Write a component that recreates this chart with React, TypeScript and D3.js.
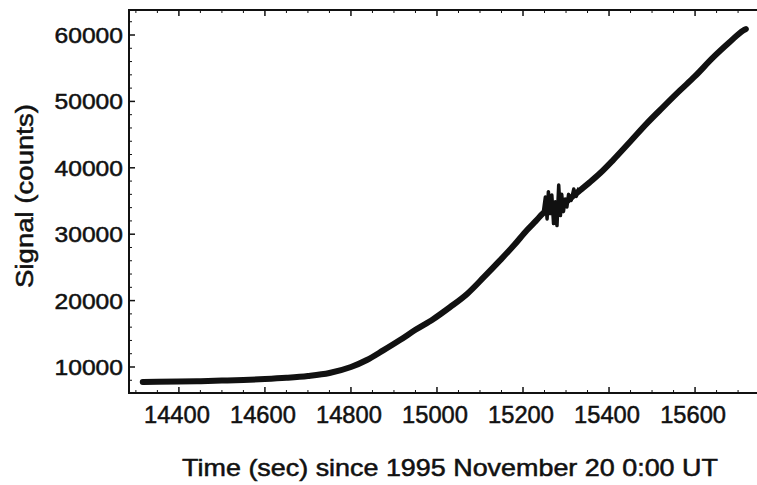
import React from "react";
import * as d3 from "d3";

const W = 757;
const H = 485;

// main light-curve trace (time in s, signal in counts)
const times = [14316, 14350, 14400, 14450, 14500, 14550, 14600, 14650, 14700, 14750, 14800, 14837, 14875, 14914, 14950, 14991, 15030, 15070, 15110, 15147, 15180, 15209, 15230, 15247, 15265, 15290, 15310, 15333, 15355, 15379, 15409, 15450, 15488, 15525, 15565, 15600, 15642, 15680, 15712, 15718];
const signal = [7745, 7760, 7800, 7870, 7950, 8050, 8190, 8380, 8650, 9100, 10000, 11050, 12500, 14060, 15600, 17200, 19000, 21000, 23600, 26090, 28400, 30600, 32000, 33160, 33700, 34300, 35400, 36620, 37800, 39170, 41130, 44000, 46690, 49100, 51650, 53800, 56620, 58900, 60680, 60900];

// jitter segment around the glitch near 15270 s
const glitchTimes = [15247, 15252, 15256, 15259, 15263, 15267, 15271, 15275, 15279, 15283, 15287, 15290, 15294, 15298, 15302, 15306, 15312, 15318, 15324, 15330];
const glitchSignal = [33200, 35600, 32300, 36400, 33100, 35900, 31600, 34900, 31300, 37400, 32800, 36000, 33400, 35300, 34100, 36000, 35100, 36800, 35700, 37000];

const xTicks = [14400, 14600, 14800, 15000, 15200, 15400, 15600];
const yTicks = [10000, 20000, 30000, 40000, 50000, 60000];

const xLabel = "Time (sec) since 1995 November 20 0:00 UT";
const yLabel = "Signal (counts)";

export default function App() {
  const left = 129;
  const right = 757;
  const top = 10;
  const bottom = 393;

  const x = d3.scaleLinear().domain([14284, 15744]).range([left, right]);
  const y = d3.scaleLinear().domain([6084, 63765]).range([bottom, top]);

  const main = times.map((t, i) => [t, signal[i]] as [number, number]);
  const glitch = glitchTimes.map((t, i) => [t, glitchSignal[i]] as [number, number]);

  const line = d3
    .line<[number, number]>()
    .x((d) => x(d[0]))
    .y((d) => y(d[1]))
    .curve(d3.curveMonotoneX);
  const lineLin = d3
    .line<[number, number]>()
    .x((d) => x(d[0]))
    .y((d) => y(d[1]));

  const xMinor = d3.range(14300, 15750, 50).filter((v) => v % 200 !== 0);
  const yMinor = d3.range(8000, 63000, 2000).filter((v) => v % 10000 !== 0);

  const font = "'Liberation Sans', Arial, Helvetica, sans-serif";
  const txt = { fontFamily: font, fill: "#111", stroke: "#111", strokeWidth: 0.5 };

  return (
    <svg
      width={W}
      height={H}
      style={{ position: "fixed", left: 0, top: 0, background: "#fff" }}
    >
      <rect x={0} y={0} width={W} height={H} fill="#fff" />
      {/* data */}
      <path d={line(main) || ""} fill="none" stroke="#111" strokeWidth={6} strokeLinecap="round" />
      <path d={lineLin(glitch) || ""} fill="none" stroke="#111" strokeWidth={3.5} strokeLinejoin="round" />

      {/* frame */}
      <line x1={left} x2={left} y1={top} y2={bottom} stroke="#111" strokeWidth={2} />
      <line x1={left - 1} x2={right} y1={bottom} y2={bottom} stroke="#111" strokeWidth={2} />
      <line x1={left - 1} x2={right} y1={top} y2={top} stroke="#111" strokeWidth={2} />

      {/* x ticks bottom & top */}
      {xTicks.map((t) => (
        <g key={"xt" + t}>
          <line x1={x(t)} x2={x(t)} y1={bottom} y2={bottom - 6} stroke="#111" strokeWidth={1.5} />
          <line x1={x(t)} x2={x(t)} y1={top} y2={top + 6} stroke="#111" strokeWidth={1.5} />
          <text
            transform={`translate(${x(t) - 2},${bottom + 30}) scale(1.03,1.05)`}
            textAnchor="middle"
            fontSize={23}
            {...txt}
          >
            {t}
          </text>
        </g>
      ))}
      {xMinor.map((t) => (
        <g key={"xm" + t}>
          <line x1={x(t)} x2={x(t)} y1={bottom} y2={bottom - 3} stroke="#111" strokeWidth={1} />
          <line x1={x(t)} x2={x(t)} y1={top} y2={top + 3} stroke="#111" strokeWidth={1} />
        </g>
      ))}

      {/* y ticks */}
      {yTicks.map((v) => (
        <g key={"yt" + v}>
          <line x1={left} x2={left + 6} y1={y(v)} y2={y(v)} stroke="#111" strokeWidth={1.5} />
          <text
            transform={`translate(${left - 6},${y(v) + 8}) scale(1.12,1)`}
            textAnchor="end"
            fontSize={22}
            {...txt}
          >
            {v}
          </text>
        </g>
      ))}
      {yMinor.map((v) => (
        <line key={"ym" + v} x1={left} x2={left + 3} y1={y(v)} y2={y(v)} stroke="#111" strokeWidth={1} />
      ))}

      {/* axis titles */}
      <text
        transform={`translate(450,476) scale(1.17,1.03)`}
        textAnchor="middle"
        fontSize={23}
        {...txt}
      >
        {xLabel}
      </text>
      <text
        transform={`translate(33,196) rotate(-90) scale(1.2,1.03)`}
        textAnchor="middle"
        fontSize={23}
        {...txt}
      >
        {yLabel}
      </text>
    </svg>
  );
}
